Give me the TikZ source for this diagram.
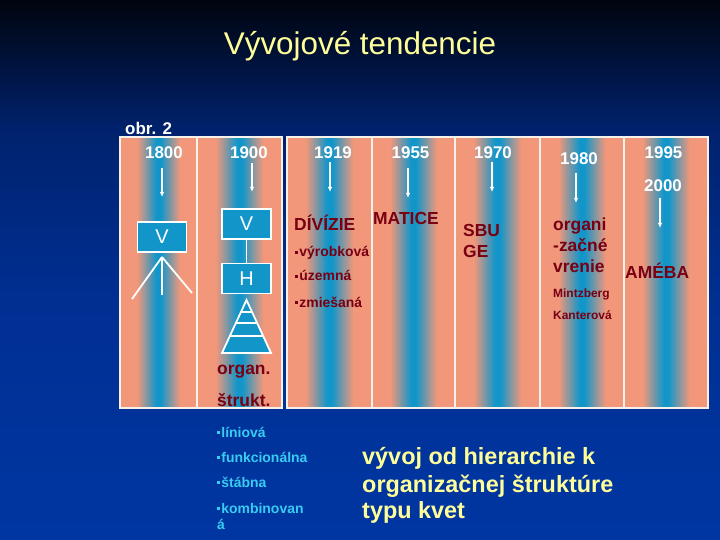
\documentclass[tikz,border=0pt]{standalone}
\usepackage{fontspec}
\setmainfont{Liberation Sans}
\usetikzlibrary{arrows.meta,calc}
\definecolor{salm}{HTML}{F2977A}
\definecolor{stblue}{HTML}{1296CA}
\definecolor{bgtop}{HTML}{00040E}
\definecolor{bgmid}{HTML}{00226E}
\definecolor{bglow}{HTML}{002F92}
\definecolor{bgbot}{HTML}{0036A2}
\definecolor{framecol}{HTML}{F6F2EA}
\definecolor{dred}{HTML}{780012}
\definecolor{cyantx}{HTML}{38CCF2}
\definecolor{ytext}{HTML}{FFFF99}
\pgfdeclareverticalshading{bgsh}{100bp}{color(0bp)=(bgbot); color(25bp)=(bgbot); color(47.5bp)=(bglow); color(63bp)=(bgmid); color(75bp)=(bgtop); color(100bp)=(bgtop)}
\pgfdeclarehorizontalshading{stripe}{100bp}{color(0bp)=(salm); color(25bp)=(salm); color(36bp)=(salm); color(48.5bp)=(stblue); color(51.5bp)=(stblue); color(64bp)=(salm); color(75bp)=(salm); color(100bp)=(salm)}
\newcommand{\bul}{\raisebox{0.22em}{\rule{0.18em}{0.18em}}\hspace{0.12em}}
\begin{document}
\begin{tikzpicture}[x=1bp,y=-1bp,
  yr/.style={text=white,font=\fontsize{17}{19}\selectfont\bfseries,inner sep=0pt},
  arr/.style={draw=white,line width=1.4bp,-{Latex[length=5bp,width=4.5bp]}},
  col/.style={shading=stripe,draw=framecol,line width=2bp},
  bx/.style={draw=white,fill=stblue,line width=1.8bp,text=white,font=\fontsize{20}{22}\selectfont,inner sep=0pt,minimum width=49bp,minimum height=30bp},
  lbl/.style={text=dred,font=\fontsize{17.5}{20}\selectfont\bfseries,inner sep=0pt,anchor=base west},
  smalllbl/.style={text=dred,font=\fontsize{12}{14}\selectfont\bfseries,inner sep=0pt,anchor=base west},
  bulllbl/.style={text=dred,font=\fontsize{14}{16}\selectfont\bfseries,inner sep=0pt,anchor=base west},
  cy/.style={text=cyantx,font=\fontsize{14}{16}\selectfont\bfseries,inner sep=0pt,anchor=base west},
  yl/.style={text=ytext,font=\fontsize{23.5}{27}\selectfont\bfseries,inner sep=0pt,anchor=base west},
  ln/.style={draw=white,line width=1.8bp}
]
\useasboundingbox (0,0) rectangle (720,540);
\shade[shading=bgsh] (0,0) rectangle (720,540);

% title
\node[text=ytext,font=\fontsize{31.5}{34}\selectfont,inner sep=0pt,anchor=base] (title) at (360,55) {Vývojové tendencie};
\node[text=white,font=\fontsize{17}{19}\selectfont\bfseries,inner sep=0pt,anchor=base west] (obr) at (125,135) {obr. 2};

% columns
\path[col] (120,137) rectangle (197,408);
\path[col] (197,137) rectangle (282,408);
\path[col] (287,137) rectangle (372,408);
\path[col] (372,137) rectangle (455,408);
\path[col] (455,137) rectangle (540,408);
\path[col] (540,137) rectangle (624,408);
\path[col] (624,137) rectangle (708,408);

% years
\node[yr] (y1800) at (164,153) {1800};
\node[yr] (y1900) at (249,153) {1900};
\node[yr] (y1919) at (333,152.5) {1919};
\node[yr] (y1955) at (410.5,152.5) {1955};
\node[yr] (y1970) at (493,152.5) {1970};
\node[yr] (y1980) at (579,159) {1980};
\node[yr] (y1995) at (663.5,152.5) {1995};
\node[yr] (y2000) at (663,185.5) {2000};

% arrows
\coordinate (a1s) at (162,168); \coordinate (a1e) at (162,197);
\coordinate (a2s) at (252,163); \coordinate (a2e) at (252,192);
\coordinate (a3s) at (330,162); \coordinate (a3e) at (330,192);
\coordinate (a4s) at (408,168); \coordinate (a4e) at (408,198);
\coordinate (a5s) at (492,162); \coordinate (a5e) at (492,192);
\coordinate (a6s) at (576,173); \coordinate (a6e) at (576,203);
\coordinate (a7s) at (660,198); \coordinate (a7e) at (660,228);
\foreach \i in {1,...,7} {\draw[arr] (a\i s) -- (a\i e);}

% column 1: V with fan
\node[bx] (v1) at (162,237) {V};
\coordinate (apex) at (162,257);
\coordinate (fanL) at (132,299);
\coordinate (fanM) at (162,295);
\coordinate (fanR) at (192,293);
\draw[ln] (apex) -- (fanL);
\draw[ln] (apex) -- (fanM);
\draw[ln] (apex) -- (fanR);

% column 2: V, H, pyramid
\node[bx] (v2) at (246.5,224) {V};
\node[bx] (h2) at (246.5,278.5) {H};
\draw[ln] (v2) -- (h2);
\coordinate (pt) at (246.5,300);
\coordinate (pl) at (222,353);
\coordinate (pr) at (271,353);
\draw[ln,fill=stblue,line join=miter] (pt) -- (pl) -- (pr) -- cycle;
\foreach \t in {0.226,0.434,0.679} {\draw[ln] ($(pt)!\t!(pl)$) -- ($(pt)!\t!(pr)$);}
\node[lbl] (organ) at (217,374) {organ.};
\node[lbl] (strukt) at (217,406) {štrukt.};

% column 3
\node[lbl] (divizie) at (294,231) {DÍVÍZIE};
\node[bulllbl] (b1) at (295,257) {\bul výrobková};
\node[bulllbl] (b2) at (295,281) {\bul územná};
\node[bulllbl] (b3) at (295,307) {\bul zmiešaná};
% column 4
\node[lbl] (matice) at (373,225) {MATICE};
% column 5
\node[lbl] (sbu) at (463,237) {SBU};
\node[lbl] (ge) at (463,258) {GE};
% column 6
\node[lbl] (org1) at (553,231) {organi};
\node[lbl] (org2) at (553,252) {-začné};
\node[lbl] (org3) at (553,273) {vrenie};
\node[smalllbl] (mintz) at (553,297) {Mintzberg};
\node[smalllbl] (kant) at (553,319) {Kanterová};
% column 7
\node[lbl] (ameba) at (625,279) {AMÉBA};

% cyan list
\node[cy] (c1) at (217,437) {\bul líniová};
\node[cy] (c2) at (217,462) {\bul funkcionálna};
\node[cy] (c3) at (217,487) {\bul štábna};
\node[cy] (c4) at (217,513) {\bul kombinovan};
\node[cy] (c5) at (217,529) {á};

% yellow text
\node[yl] (t1) at (362,464) {vývoj od hierarchie k};
\node[yl] (t2) at (362,492) {organizačnej štruktúre};
\node[yl] (t3) at (362,518) {typu kvet};
\end{tikzpicture}
\end{document}
